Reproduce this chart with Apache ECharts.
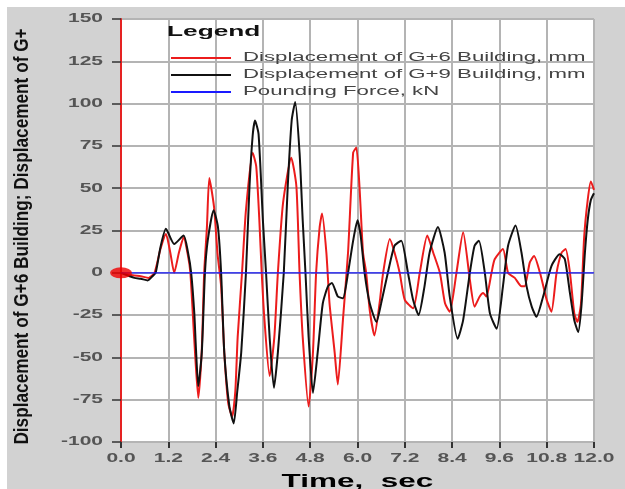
<!DOCTYPE html>
<html><head><meta charset="utf-8">
<script src="https://cdn.jsdelivr.net/npm/echarts@6/dist/echarts.min.js"></script>
<style>
html,body{margin:0;padding:0;background:#fff;}
#wrap{position:relative;width:625px;height:489px;overflow:hidden;background:#fff;}
#bg{position:absolute;left:7px;top:7px;right:0;bottom:0;background:#d2d2d2;}
#plotbg{position:absolute;left:121px;top:19px;width:473px;height:423px;background:#fff;}
#chart{position:absolute;left:0;top:0;width:625px;height:489px;}
</style></head><body>
<div id="wrap"><div id="bg"></div><div id="plotbg"></div><div id="chart"></div></div>
<script>
// ---- data ----
const timesG6 = [0,0.3,0.5,0.7,0.85,1.0,1.14,1.25,1.35,1.47,1.59,1.7,1.76,1.86,1.96,2.05,2.11,2.18,2.24,2.36,2.45,2.54,2.62,2.72,2.82,2.9,2.96,3.07,3.17,3.34,3.43,3.51,3.57,3.64,3.77,3.89,3.98,4.11,4.32,4.45,4.53,4.61,4.76,4.87,4.95,5.04,5.10,5.21,5.29,5.42,5.50,5.63,5.76,5.89,5.97,6.05,6.14,6.22,6.31,6.43,6.56,6.65,6.82,6.94,7.07,7.20,7.41,7.58,7.77,7.92,8.09,8.22,8.34,8.51,8.68,8.85,8.97,9.10,9.19,9.27,9.40,9.48,9.69,9.82,9.99,10.16,10.24,10.37,10.48,10.63,10.80,10.92,11.05,11.18,11.28,11.39,11.50,11.58,11.67,11.75,11.84,11.92,12.0];
const dispG6 = [0,-1.5,-2,-3,0,14,23,12,0,12,21,10,0,-40,-74,-45,0,27,56,39,11,-8,-47,-77,-85,-70,-38,0,37,71,63,31,0,-28,-61,-38,0,41,68,51,0,-38,-79,-47,0,27,35,12,-18,-47,-66,-28,12,71,74,51,12,0,-22,-37,-18,0,20,12,0,-16,-21,0,22,12,0,-18,-23,0,24,-4,-20,-14,-12,-14,0,8,14,0,-3,-8,-8,6,10,0,-16,-23,0,12,14,0,-24,-29,-18,21,43,54,49];
const timesG9 = [0,0.34,0.5,0.68,0.8,0.88,1.0,1.14,1.35,1.59,1.70,1.78,1.86,1.90,1.96,2.05,2.13,2.2,2.35,2.46,2.54,2.62,2.75,2.86,2.95,3.05,3.17,3.26,3.34,3.40,3.49,3.60,3.68,3.77,3.88,3.98,4.13,4.23,4.33,4.42,4.53,4.61,4.68,4.76,4.87,4.99,5.12,5.25,5.35,5.50,5.63,5.76,5.89,6.0,6.08,6.18,6.31,6.48,6.60,6.77,6.94,7.11,7.28,7.41,7.55,7.70,7.83,8.04,8.21,8.34,8.54,8.68,8.85,8.97,9.08,9.23,9.36,9.53,9.69,9.82,10.01,10.16,10.29,10.42,10.54,10.71,10.92,11.13,11.26,11.39,11.50,11.60,11.68,11.77,11.84,11.92,12.0];
const dispG9 = [0,-3,-3.5,-4.5,-2,0,15,26,17,22,12,0,-24,-44,-67,-47,0,19,37,27,0,-47,-79,-89,-70,-47,0,51,81,90,82,31,0,-38,-68,-47,0,51,90,101,71,31,0,-38,-71,-47,-18,-8,-6,-14,-15,0,19,31,22,0,-18,-29,-18,0,16,19,0,-16,-25,-8,12,27,12,-14,-39,-28,0,16,19,0,-24,-33,-8,16,28,12,-8,-20,-26,-14,4,11,8,-12,-28,-35,-20,12,31,43,47];
const forceTimes = [0, 12];
const forceValues = [0, 0];
const markerTimes = [0];
const markerValues = [0];

const NAME_G6 = 'Displacement of G+6 Building, mm';
const NAME_G9 = 'Displacement of G+9 Building, mm';
const NAME_F = 'Pounding Force, kN';
const Y_NAME = 'Displacement of G+6 Building; Displacement of G+';
const X_NAME = 'Time,  sec';
const X_MIN = 0, X_MAX = 12, X_STEP = 1.2;
const Y_MIN = -100, Y_MAX = 150, Y_STEP = 25;

const FONT = "'Liberation Sans', Arial, sans-serif";
const pairs = (xs, ys) => xs.map((x, i) => [x, ys[i]]);

const chart = echarts.init(document.getElementById('chart'), null, {renderer: 'canvas'});
chart.setOption({
  animation: false,
  backgroundColor: 'transparent',
  title: {
    text: 'Legend', left: 167, top: 24, padding: 0,
    textStyle: {fontFamily: FONT, fontSize: 15, fontWeight: 'bold', color: '#111'}
  },
  legend: {
    data: [NAME_G6, NAME_G9, NAME_F],
    orient: 'vertical', left: 171, top: 52, padding: 0,
    icon: 'rect', itemWidth: 60, itemHeight: 2, itemGap: 5, selectedMode: false,
    textStyle: {fontFamily: FONT, fontSize: 12, color: '#444'}
  },
  grid: {
    left: 121, right: 31, top: 19, bottom: 47, containLabel: false,
    outerBoundsMode: 'none', show: false
  },
  xAxis: {
    type: 'value', min: X_MIN, max: X_MAX, interval: X_STEP,
    name: X_NAME, nameLocation: 'middle', nameGap: 31,
    nameTextStyle: {fontFamily: FONT, fontSize: 18, fontWeight: 'bold', color: '#000'},
    axisLine: {show: false, onZero: false},
    axisTick: {show: true, length: 6, lineStyle: {color: '#333', width: 2}},
    axisLabel: {margin: 11, fontFamily: FONT, fontSize: 12, fontWeight: 'bold', color: '#555',
      formatter: v => v.toFixed(1)},
    splitLine: {show: true, lineStyle: {color: '#b4b4b4', width: 2}}
  },
  yAxis: {
    type: 'value', min: Y_MIN, max: Y_MAX, interval: Y_STEP,
    name: Y_NAME, nameLocation: 'middle', nameRotate: 90, nameGap: 88, nameMoveOverlap: false,
    nameTextStyle: {fontFamily: FONT, fontSize: 21, fontWeight: 'bold', color: '#111'},
    axisLine: {show: true, onZero: false, lineStyle: {color: '#e52222', width: 2}},
    axisTick: {show: true, length: 9, lineStyle: {color: '#333', width: 1.5}},
    axisLabel: {margin: 18, fontFamily: FONT, fontSize: 12, fontWeight: 'bold', color: '#555'},
    splitLine: {show: true, lineStyle: {color: '#b4b4b4', width: 2}}
  },
  series: [
    {name: NAME_G6, type: 'line', data: pairs(timesG6, dispG6), symbol: 'none', smooth: 0.2,
      lineStyle: {color: '#ec1c1c', width: 2}, itemStyle: {color: '#ec1c1c'}, z: 2},
    {name: NAME_G9, type: 'line', data: pairs(timesG9, dispG9), symbol: 'none', smooth: 0.2,
      lineStyle: {color: '#111111', width: 2}, itemStyle: {color: '#111111'}, z: 3},
    {name: NAME_F, type: 'line', data: pairs(forceTimes, forceValues), symbol: 'none',
      lineStyle: {color: '#1a1aff', width: 1.2}, itemStyle: {color: '#1a1aff'}, z: 4},
    {name: 'marker', type: 'scatter', data: pairs(markerTimes, markerValues),
      symbol: 'circle', symbolSize: [22, 11], itemStyle: {color: '#f00000'}, z: 5, silent: true}
  ]
});

// Reference text is horizontally stretched: widen text glyphs around their anchors.
(function stretchTexts() {
  const zr = chart.getZr();
  const legendNames = [NAME_G6, NAME_G9, NAME_F];
  const adjust = el => {
    if (el.type !== 'text' || !el.style) return;
    const txt = el.style.text;
    let k = 1.75, dx = 0, dy = 0;
    if (txt === Y_NAME) { k = 0.82; dy = 6; }
    else if (legendNames.indexOf(txt) >= 0) { k = 1.85; dx = 7; }
    el.originX = el.style.x || 0;
    el.originY = el.style.y || 0;
    el.scaleX = k;
    el.x = (el.x || 0) + dx;
    el.y = (el.y || 0) + dy;
    el.markRedraw && el.markRedraw();
  };
  zr.storage.getRoots().forEach(root => {
    adjust(root);
    if (root.traverse) root.traverse(adjust);
  });
  zr.painter.refresh(true);
})();
</script></body></html>
